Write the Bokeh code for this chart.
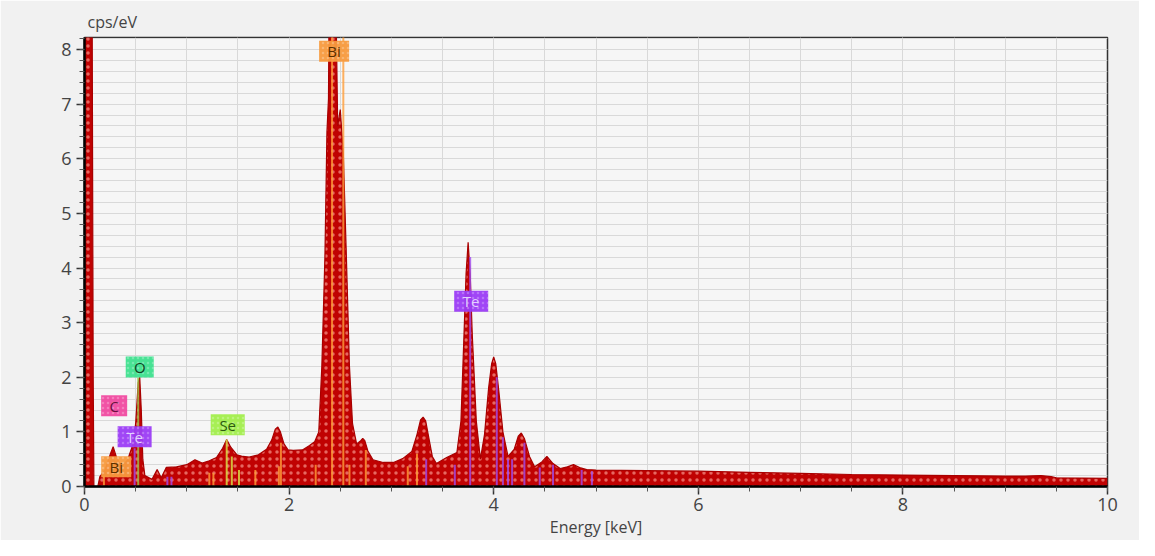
from bokeh.plotting import figure
from bokeh.models import Range1d, ColumnDataSource
from bokeh.core.properties import value
from bokeh.embed import file_html
from bokeh.resources import INLINE

# Spectrum (energy keV, counts cps/eV)
energy = [0.0, 0.075, 0.085, 0.092, 0.13, 0.15, 0.20, 0.25, 0.28, 0.31, 0.36, 0.42, 0.47, 0.50, 0.525,
          0.54, 0.555, 0.57, 0.59, 0.66, 0.71, 0.75, 0.80, 0.90, 1.00, 1.08, 1.15, 1.22, 1.29, 1.35,
          1.39, 1.43, 1.49, 1.55, 1.61, 1.70, 1.78, 1.83, 1.865, 1.89, 1.915, 1.95, 1.99, 2.04, 2.13,
          2.20, 2.25, 2.29, 2.32, 2.35, 2.37, 2.385, 2.39, 2.42, 2.46, 2.475, 2.50, 2.53, 2.56, 2.59,
          2.62, 2.66, 2.70, 2.72, 2.74, 2.77, 2.82, 2.92, 3.02, 3.11, 3.20, 3.25, 3.285, 3.31, 3.335,
          3.37, 3.40, 3.44, 3.54, 3.64, 3.68, 3.71, 3.73, 3.75, 3.77, 3.79, 3.83, 3.87, 3.91, 3.95,
          3.98, 4.00, 4.02, 4.05, 4.09, 4.14, 4.20, 4.24, 4.27, 4.30, 4.35, 4.40, 4.47, 4.52, 4.58,
          4.65, 4.72, 4.78, 4.85, 4.91, 5.0, 5.5, 6.0, 6.5, 7.0, 7.5, 8.0, 8.5, 9.0, 9.2, 9.35, 9.45,
          9.5, 10.0]
counts = [8.6, 8.6, 2.0, 0.0, 0.0, 0.18, 0.30, 0.58, 0.73, 0.55, 0.36, 0.48, 0.75, 1.15, 1.9,
          2.0, 1.4, 0.5, 0.2, 0.13, 0.31, 0.16, 0.35, 0.36, 0.40, 0.49, 0.43, 0.47, 0.53, 0.70,
          0.86, 0.72, 0.58, 0.55, 0.54, 0.58, 0.68, 0.85, 1.05, 1.09, 1.0, 0.78, 0.67, 0.66, 0.67,
          0.75, 0.82, 1.0, 2.2, 4.2, 6.5, 7.1, 8.6, 8.6, 8.6, 6.6, 6.9, 6.1, 4.2, 2.2,
          1.15, 0.78, 0.84, 0.88, 0.84, 0.65, 0.49, 0.44, 0.44, 0.51, 0.64, 0.95, 1.22, 1.27, 1.2,
          0.85, 0.55, 0.42, 0.53, 0.62, 1.2, 2.8, 3.9, 4.47, 3.9, 2.8, 1.2, 0.50, 0.95, 1.8,
          2.25, 2.37, 2.25, 1.75, 1.0, 0.55, 0.68, 0.92, 0.98, 0.88, 0.55, 0.36, 0.45, 0.55, 0.42,
          0.33, 0.36, 0.40, 0.34, 0.31, 0.30, 0.29, 0.28, 0.26, 0.24, 0.22, 0.21, 0.20, 0.19, 0.19, 0.20, 0.18,
          0.16, 0.15]

# Element marker lines
line_energy = [0.19, 1.22, 1.26, 1.67, 1.90, 1.92, 2.26, 2.42, 2.53, 2.59, 2.75, 3.16, 3.25,
               1.39, 1.44, 1.51,
               0.525,
               0.49, 0.81, 0.85, 3.34, 3.62, 3.77, 4.03, 4.09, 4.14, 4.18, 4.30, 4.45, 4.58, 4.86, 4.96]
line_height = [0.2, 0.25, 0.25, 0.3, 0.37, 0.8, 0.4, 8.6, 8.6, 0.4, 0.67, 0.37, 0.6,
               0.86, 0.55, 0.3,
               2.0,
               0.7, 0.18, 0.18, 0.5, 0.4, 4.2, 2.0, 0.9, 0.5, 0.5, 0.8, 0.35, 0.4, 0.3, 0.28]
line_element = ["Bi"] * 13 + ["Se"] * 3 + ["O"] + ["Te"] * 15

element_line_color = {"Bi": "#ff9d3a", "Se": "#d8e84a", "O": "#9cc24a", "Te": "#a04cf0"}

# Element labels
label_text = ["Bi", "Te", "O", "C", "Te", "Se", "Bi"]
label_x = [2.44, 3.78, 0.54, 0.29, 0.49, 1.40, 0.31]
label_y = [7.97, 3.39, 2.19, 1.48, 0.91, 1.13, 0.36]

label_fill = {"Bi": "#f79a3e", "Te": "#9b3cf5", "O": "#3ee08e", "C": "#f04aa0", "Se": "#a2ee4c"}
label_ink = {"Bi": "#5a3000", "Te": "#e2d0ff", "O": "#0d3f22", "C": "#6a1040", "Se": "#2d5a10"}
label_w = {"Bi": 30, "Te": 34, "O": 28, "C": 26, "Se": 34}

FONT = "Open Sans"
INK = "#444444"

p = figure(width=1139, height=540, output_backend="svg", toolbar_location=None,
           x_range=Range1d(0, 10), y_range=Range1d(0, 8.22),
           min_border_left=84, min_border_right=32, min_border_top=37, min_border_bottom=53,
           background_fill_color="#f6f6f6", border_fill_color="#f1f1f1")

p.title.text = "cps/eV"
p.title.align = "left"
p.title.text_font = FONT
p.title.text_font_size = "16px"
p.title.text_font_style = "normal"
p.title.text_color = INK
p.title.offset = 3

p.outline_line_color = "#333333"
p.outline_line_width = 1.5

for g in (p.xgrid, p.ygrid):
    g.grid_line_color = "#d9d9d9"
    g.minor_grid_line_color = "#d9d9d9"
    g.grid_line_width = 1
    g.minor_grid_line_width = 1

p.xaxis.ticker.desired_num_ticks = 5
p.xaxis.ticker.num_minor_ticks = 4
p.yaxis.ticker.desired_num_ticks = 9
p.yaxis.ticker.num_minor_ticks = 5

for ax in (p.xaxis, p.yaxis):
    ax.axis_line_color = "black"
    ax.axis_line_width = 2.5
    ax.major_tick_line_color = "#333333"
    ax.minor_tick_line_color = "#555555"
    ax.major_tick_out = 8
    ax.major_tick_in = 0
    ax.minor_tick_out = 5
    ax.minor_tick_in = 0
    ax.major_tick_line_width = 1.5
    ax.major_label_text_font = FONT
    ax.major_label_text_font_size = "18px"
    ax.major_label_text_color = INK
    ax.axis_label_text_font = FONT
    ax.axis_label_text_font_size = "16px"
    ax.axis_label_text_font_style = "normal"
    ax.axis_label_text_color = INK

p.xaxis.axis_label = "Energy [keV]"
p.xaxis.axis_label_standoff = 2
p.xaxis.major_label_standoff = 3
p.yaxis.major_label_standoff = 5

src = ColumnDataSource(dict(x=energy, y=counts, y0=[0] * len(energy)))
p.varea(x="x", y1="y0", y2="y", source=src, fill_color="#c00202",
        hatch_pattern="dot", hatch_color="#ec7a72", hatch_scale=7, hatch_weight=1.3, hatch_alpha=0.85)
p.line(x="x", y="y", source=src, line_color="#a80000", line_width=1.2)

lsrc = ColumnDataSource(dict(x=line_energy, y0=[0] * len(line_energy), y1=line_height,
                             c=[element_line_color[e] for e in line_element]))
p.segment(x0="x", y0="y0", x1="x", y1="y1", source=lsrc, line_color="c", line_width=2, line_alpha=0.8)

bsrc = ColumnDataSource(dict(x=label_x, y=label_y, t=label_text,
                             f=[label_fill[t] for t in label_text],
                             k=[label_ink[t] for t in label_text],
                             w=[label_w[t] for t in label_text]))
p.rect(x="x", y="y", width="w", height=21, width_units="screen", height_units="screen",
       source=bsrc, fill_color="f", line_color=None, fill_alpha=0.95,
       hatch_pattern="dot", hatch_color="white", hatch_alpha=0.25, hatch_scale=5)
p.text(x="x", y="y", text="t", source=bsrc, text_color="k", text_align="center",
       text_baseline="middle", text_font=value(FONT), text_font_size="15px")

open("out.html", "w").write(file_html(p, INLINE))
